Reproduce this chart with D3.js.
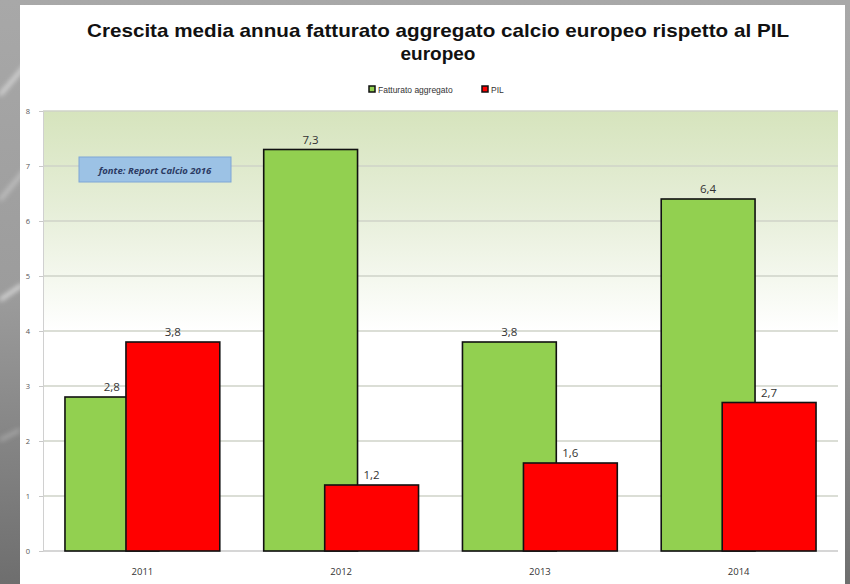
<!DOCTYPE html>
<html>
<head>
<meta charset="utf-8">
<script src="https://cdn.jsdelivr.net/npm/d3@7"></script>
<style>
  html, body { margin: 0; padding: 0; background: #fff; }
  svg { display: block; }
</style>
</head>
<body>
<svg id="chart" width="850" height="584"></svg>
<script>
// Data
const years = ["2011", "2012", "2013", "2014"];
const fatturato = [2.8, 7.3, 3.8, 6.4];
const pil = [3.8, 1.2, 1.6, 2.7];
const yTicks = [0, 1, 2, 3, 4, 5, 6, 7, 8];
const seriesNames = ["Fatturato aggregato", "PIL"];
const seriesColors = ["#92d050", "#ff0000"];
const titleLines = ["Crescita media annua fatturato aggregato calcio europeo rispetto al PIL", "europeo"];
const sourceNote = "fonte: Report Calcio 2016";

const W = 850, H = 584;
const svg = d3.select("#chart");
const defs = svg.append("defs");

// Backdrop behind the white panel
const bg = defs.append("linearGradient").attr("id", "bgGrad")
  .attr("x1", 0).attr("y1", 0).attr("x2", 0).attr("y2", 1);
bg.append("stop").attr("offset", "0%").attr("stop-color", "#a8a8a8");
bg.append("stop").attr("offset", "50%").attr("stop-color", "#9c9c9c");
bg.append("stop").attr("offset", "100%").attr("stop-color", "#6e6e6e");
svg.append("rect").attr("width", W).attr("height", H).attr("fill", "url(#bgGrad)");

const blur = defs.append("filter").attr("id", "soft");
blur.append("feGaussianBlur").attr("stdDeviation", 2.5);
const streaks = svg.append("g").attr("filter", "url(#soft)").attr("stroke", "#f4f4f4").attr("fill", "none");
[[0, 95, 30, 60, 0.8], [0, 300, 22, 285, 0.9], [0, 200, 25, 170, 0.5], [0, 440, 20, 430, 0.4]].forEach(s => {
  streaks.append("line").attr("x1", s[0]).attr("y1", s[1]).attr("x2", s[2]).attr("y2", s[3])
    .attr("stroke-width", 3).attr("opacity", s[4]);
});

// White chart panel
svg.append("rect").attr("x", 20).attr("y", 5).attr("width", 825).attr("height", H - 5)
  .attr("fill", "#ffffff");

// Plot geometry
const plot = { left: 43, right: 838, top: 111, bottom: 551 };

const x = d3.scaleBand().domain(years)
  .range([plot.left, plot.right])
  .paddingInner(0.221).paddingOuter(0.1105);
const y = d3.scaleLinear().domain([0, 8]).range([plot.bottom, plot.top]);

// Plot background gradient (green at top, fading to white)
const pg = defs.append("linearGradient").attr("id", "plotGrad")
  .attr("x1", 0).attr("y1", 0).attr("x2", 0).attr("y2", 1);
pg.append("stop").attr("offset", "0%").attr("stop-color", "#d6e4bd");
pg.append("stop").attr("offset", "22%").attr("stop-color", "#e6eed8");
pg.append("stop").attr("offset", "50%").attr("stop-color", "#ffffff");
pg.append("stop").attr("offset", "100%").attr("stop-color", "#ffffff");
svg.append("rect").attr("x", plot.left).attr("y", plot.top)
  .attr("width", plot.right - plot.left).attr("height", plot.bottom - plot.top)
  .attr("fill", "url(#plotGrad)");

// Gridlines
svg.append("g").selectAll("line").data(yTicks).join("line")
  .attr("x1", plot.left).attr("x2", plot.right)
  .attr("y1", d => y(d)).attr("y2", d => y(d))
  .attr("stroke", d => d === 0 ? "#c8c8c8" : "#cfd3c8").attr("stroke-width", 1.3);

// Y axis
const yAxis = d3.axisLeft(y).tickValues(yTicks).tickSize(4).tickPadding(9).tickFormat(d3.format("d"));
const yg = svg.append("g").attr("transform", `translate(${plot.left},0)`).call(yAxis);
yg.select(".domain").attr("stroke", "#d0d0d0");
yg.selectAll(".tick line").attr("stroke", "#c8c8c8");
yg.selectAll("text").attr("fill", "#555").attr("font-family", "Open Sans, sans-serif").attr("font-size", 7.5);

// X axis labels
const xAxis = d3.axisBottom(x).tickSize(0).tickPadding(17);
const xg = svg.append("g").attr("transform", `translate(0,${plot.bottom})`).call(xAxis);
xg.select(".domain").remove();
xg.selectAll("text").attr("fill", "#333").attr("font-family", "Open Sans, sans-serif").attr("font-size", 9.5);

// Bars: two overlapping series per category
const overlap = 0.35;
const bw = x.bandwidth() / (2 - overlap);
const rows = years.map((yr, i) => ({ yr, vals: [fatturato[i], pil[i]] }));
const barX = (yr, s) => s === 0 ? x(yr) : x(yr) + x.bandwidth() - bw;

[0, 1].forEach(s => {
  const g = svg.append("g");
  g.selectAll("rect").data(rows).join("rect")
    .attr("x", d => barX(d.yr, s))
    .attr("y", d => y(d.vals[s]))
    .attr("width", bw)
    .attr("height", d => y(0) - y(d.vals[s]))
    .attr("fill", seriesColors[s])
    .attr("stroke", "#111").attr("stroke-width", 1.6);
});

// Value labels
const fmt = v => d3.format(".1f")(v).replace(".", ",");
[0, 1].forEach(s => {
  svg.append("g").selectAll("text").data(rows).join("text")
    .attr("x", d => barX(d.yr, s) + bw / 2)
    .attr("y", d => y(d.vals[s]) - 6)
    .attr("text-anchor", "middle")
    .attr("font-family", "Open Sans, sans-serif").attr("font-size", 11.5)
    .attr("fill", "#333")
    .text(d => fmt(d.vals[s]));
});

// Title
const title = svg.append("g").attr("font-family", "'Liberation Sans Narrow', 'Arial Narrow', sans-serif")
  .attr("font-weight", "bold").attr("fill", "#111").attr("text-anchor", "middle");
titleLines.forEach((t, i) => {
  title.append("text").attr("x", 438).attr("y", 37 + i * 23)
    .attr("font-size", 19).attr("textLength", i === 0 ? 702 : null)
    .attr("lengthAdjust", "spacingAndGlyphs").text(t);
});

// Legend
const legend = svg.append("g").attr("font-family", "'Liberation Sans Narrow', sans-serif").attr("font-size", 8.5).attr("fill", "#333");
const legendX = [369, 482];
seriesNames.forEach((n, i) => {
  legend.append("rect").attr("x", legendX[i]).attr("y", 86).attr("width", 6).attr("height", 6)
    .attr("fill", seriesColors[i]).attr("stroke", "#111").attr("stroke-width", 1.5);
  legend.append("text").attr("x", legendX[i] + 9).attr("y", 92.5).text(n);
});

// Source note box
const note = svg.append("g");
note.append("rect").attr("x", 79).attr("y", 157).attr("width", 152).attr("height", 25)
  .attr("fill", "#9cc2e5").attr("stroke", "#7ea6d6").attr("stroke-width", 1);
note.append("text").attr("x", 155).attr("y", 174).attr("text-anchor", "middle")
  .attr("font-family", "Open Sans, sans-serif").attr("font-style", "italic").attr("font-weight", "bold")
  .attr("font-size", 9.5).attr("fill", "#2b3a63").text(sourceNote);
</script>
</body>
</html>
